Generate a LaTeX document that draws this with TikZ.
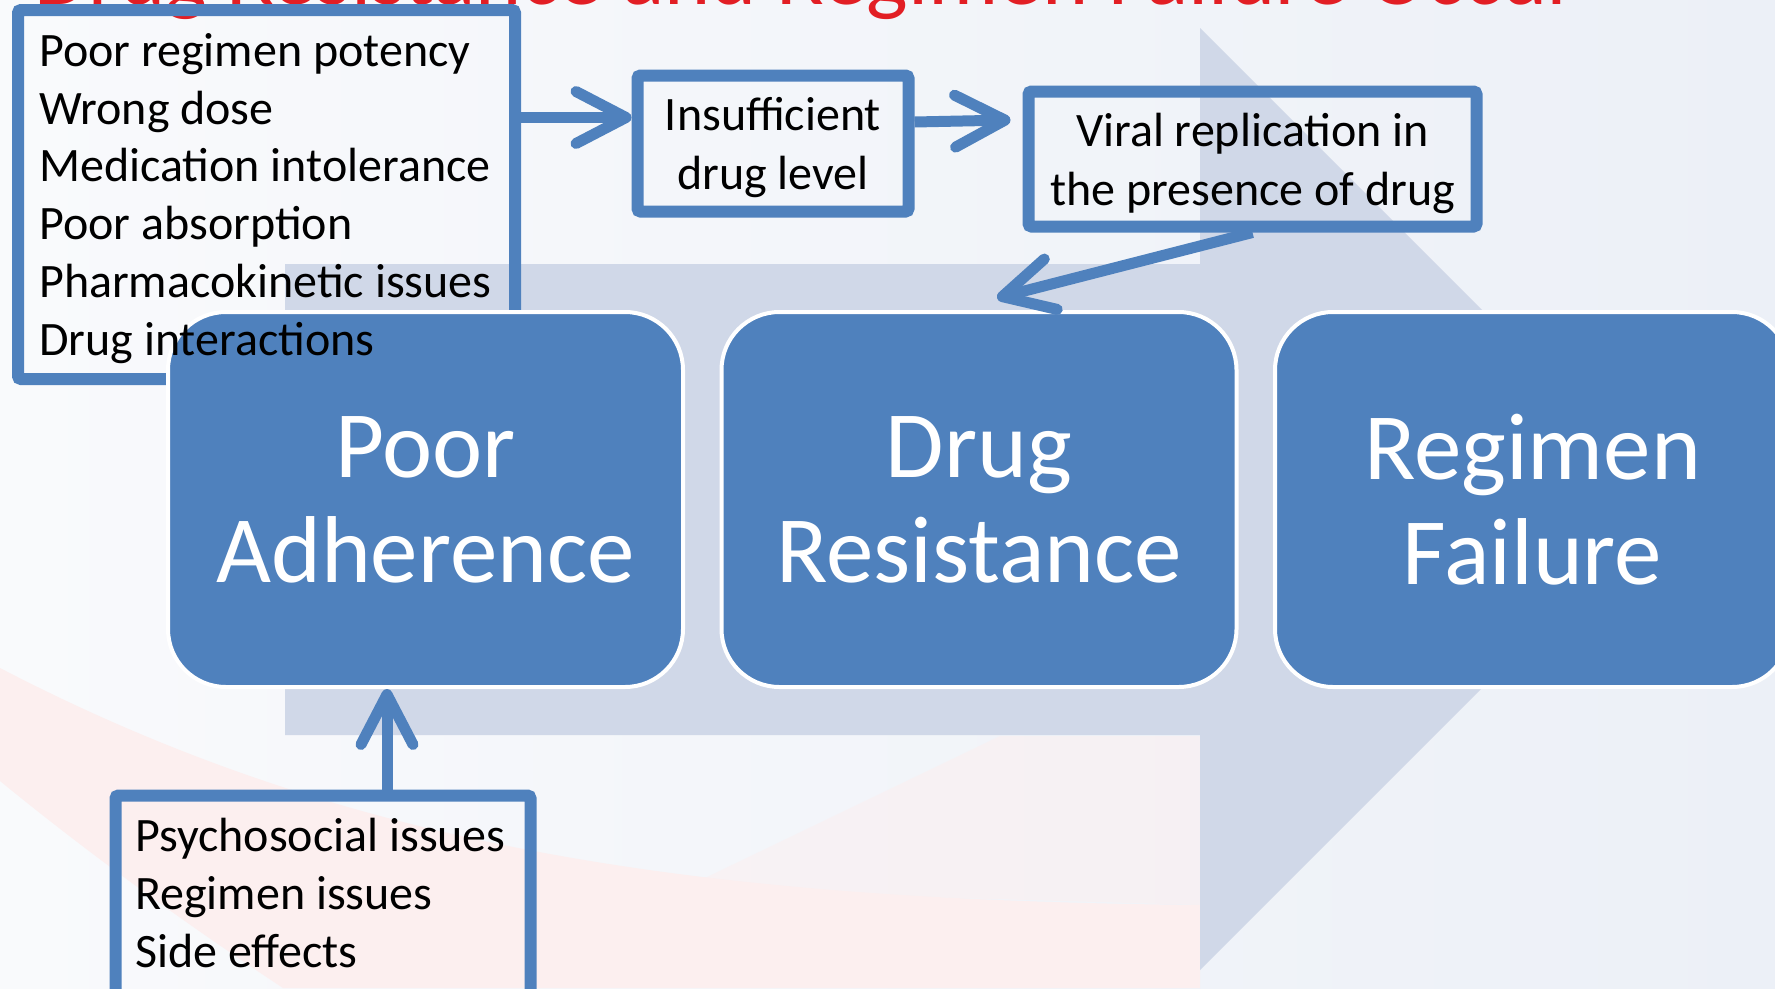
\documentclass[tikz,border=0pt]{standalone}
\usepackage{fontspec}
\setmainfont{Carlito}
\usetikzlibrary{arrows.meta,calc}
\definecolor{blu}{RGB}{79,129,189}
\definecolor{shaftc}{RGB}{208,216,232}
\definecolor{bgl}{RGB}{249,250,252}
\definecolor{bgr}{RGB}{236,240,247}
\definecolor{pinkc}{RGB}{252,239,239}
\definecolor{titler}{RGB}{226,30,36}
\begin{document}
\begin{tikzpicture}[x=1pt,y=-1pt,
  tbox/.style={draw=blu,line width=12pt,rounded corners=3pt,inner sep=0pt},
  boxtxt/.style={align=center,font=\fontsize{48}{59}\selectfont,text depth=0pt},
  bigbox/.style={fill=blu,draw=white,line width=4pt,rounded corners=58pt,
     minimum width=515pt,minimum height=375pt,inner sep=0pt,text=white,
     align=center,font=\fontsize{95}{105}\selectfont},
  smalltxt/.style={font=\fontsize{48}{57.7}\selectfont,text=black,inner sep=0pt},
  conn/.style={draw=blu,line width=11pt,-{Straight Barb[length=50pt,width=52pt,round]}}]
\path[use as bounding box] (0,0) rectangle (1775,988);
\fill[left color=bgl,right color=bgr] (0,0) rectangle (1775,988);
% faint pink swoosh
\fill[pinkc] (0,668) .. controls (350,850) and (700,900) .. (1200,905)
  -- (1200,988) -- (283,988) .. controls (150,900) and (60,830) .. (0,781) -- cycle;
\fill[pinkc,opacity=0.5] (680,890) -- (1000,736) -- (1200,736) -- (1200,905) -- cycle;
% title (cut off at top)
\node[anchor=base west,text=titler,font=\fontsize{88}{96}\selectfont,inner sep=0pt] (title) at (34,4) {Drug Resistance and Regimen Failure Occur};
% big background arrow
\fill[shaftc] (285,264) -- (1200,264) -- (1200,28) -- (1671,499) -- (1200,970) -- (1200,735) -- (285,735) -- cycle;
% outlined boxes
\node[tbox,minimum width=497pt,minimum height=369pt] (causes) at (266.5,194.5) {};
\node[tbox,minimum width=415pt,minimum height=220pt] (sidefx) at (323,905.5) {};
\node[tbox,boxtxt,minimum width=271pt,minimum height=136pt] (insuff) at (773,143.5) {Insufficient\\drug level};
\node[tbox,boxtxt,minimum width=448pt,minimum height=135pt] (viral) at (1252.5,159) {Viral replication in\\the presence of drug};
% main boxes
\node[bigbox] (pa) at (425.5,499.5) {Poor\\Adherence};
\node[bigbox] (dr) at (979,499.5) {Drug\\Resistance};
\node[bigbox] (rf) at (1532.5,499.5) {Regimen\\Failure};
% texts of the list boxes (base anchor = last line)
\node[smalltxt,anchor=base west,align=left] (causestxt) at (39,355)
  {Poor regimen potency\\Wrong dose\\Medication intolerance\\Poor absorption\\Pharmacokinetic issues\\Drug interactions};
\node[smalltxt,anchor=base west,align=left] (sidefxtxt) at (135,967)
  {Psychosocial issues\\Regimen issues\\Side effects};
% connectors
\coordinate (a1) at ([yshift=26pt]insuff.west);
\draw[conn] (causes.east |- a1) -- (a1);
\draw[conn] ([yshift=21.5pt]insuff.east) -- ([xshift=-12pt,yshift=39pt]viral.west);
\draw[conn] (viral.south) -- ([xshift=18pt,yshift=12pt]dr.north);
\coordinate (a4x) at (387,0);
\draw[conn] (sidefx.north -| a4x) -- (pa.south -| a4x);
\end{tikzpicture}
\end{document}
